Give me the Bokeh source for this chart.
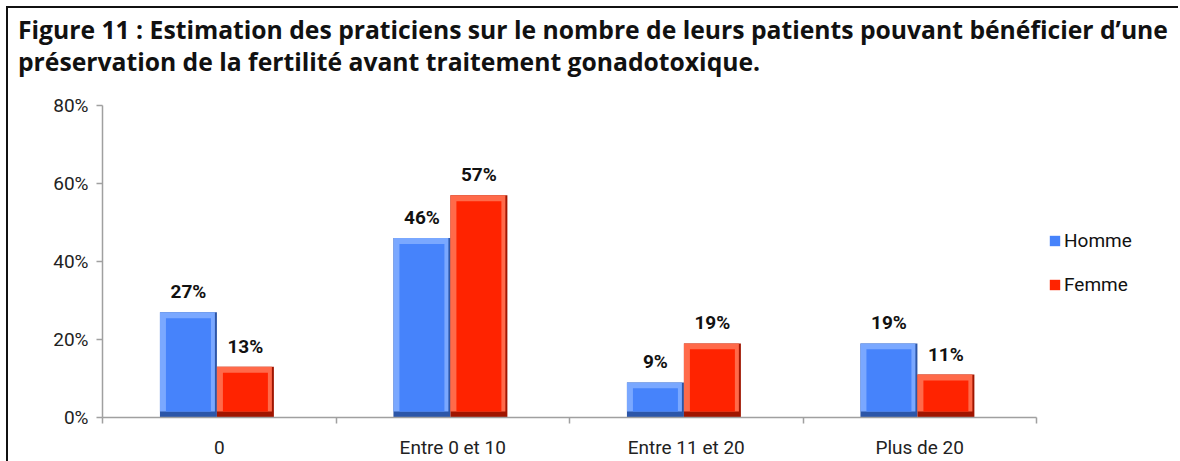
import numpy as np
from bokeh.plotting import figure
from bokeh.layouts import column
from bokeh.models import (ColumnDataSource, FixedTicker, Range1d, Legend, Div,
                          LegendItem, NumeralTickFormatter, LabelSet, LinearAxis)
from bokeh.core.properties import value
from bokeh.embed import file_html
from bokeh.resources import INLINE

categories = ["0", "Entre 0 et 10", "Entre 11 et 20", "Plus de 20"]
series = ["Homme", "Femme"]
homme = [0.27, 0.46, 0.09, 0.19]
femme = [0.13, 0.57, 0.19, 0.11]
labels_h = ["27%", "46%", "9%", "19%"]
labels_f = ["13%", "57%", "19%", "11%"]
yticks = [0, 0.2, 0.4, 0.6, 0.8]
title_lines = ["Figure 11 : Estimation des praticiens sur le nombre de leurs patients pouvant bénéficier d\u2019une",
               "préservation de la fertilité avant traitement gonadotoxique."]

FONT = "Roboto"
TFONT = "Open Sans"
W = 1170
TH = 70
H = 383
ML, MR, MT, MB = 94, 12, 27, 42
frame_w = W - ML - MR
frame_h = H - MT - MB
axis_px = 934  # pixel length of the category axis
n = len(categories)
x_end = n * frame_w / axis_px

title = Div(text="<br>".join(title_lines), width=W, height=TH, margin=0,
            styles={"font-family": "'Open Sans'", "font-weight": "bold",
                    "font-size": "24.7px", "line-height": "32px",
                    "color": "#111", "padding-left": "10px",
                    "padding-top": "6px", "white-space": "nowrap",
                    "box-sizing": "border-box"})

p = figure(width=W, height=H, output_backend="svg", toolbar_location=None,
           x_range=Range1d(0, x_end), y_range=Range1d(0, 0.8),
           min_border_left=ML, min_border_right=MR, min_border_top=MT,
           min_border_bottom=MB, x_axis_type=None, y_axis_type=None)
p.title = None
p.outline_line_color = None
p.grid.visible = False
p.margin = 0

ya = LinearAxis(ticker=FixedTicker(ticks=yticks, minor_ticks=[]),
                formatter=NumeralTickFormatter(format="0%"))
ya.axis_line_color = "#a0a0a0"
ya.axis_line_width = 1.5
ya.major_tick_line_color = "#a0a0a0"
ya.major_tick_line_width = 1.5
ya.major_tick_in = 0
ya.major_tick_out = 6
ya.major_label_text_font = FONT
ya.major_label_text_font_size = "19px"
ya.major_label_text_color = "#222"
ya.major_label_standoff = 8
p.add_layout(ya, "left")

centers = [i + 0.5 for i in range(n)]
xa = LinearAxis(ticker=FixedTicker(ticks=centers, minor_ticks=list(range(n + 1))),
                bounds=(0, n))
xa.major_label_overrides = {c: lab for c, lab in zip(centers, categories)}
xa.axis_line_color = "#a0a0a0"
xa.axis_line_width = 1.5
xa.major_tick_line_color = None
xa.minor_tick_line_color = "#a0a0a0"
xa.minor_tick_line_width = 1.5
xa.minor_tick_in = 0
xa.minor_tick_out = 6
xa.major_label_text_font = FONT
xa.major_label_text_font_size = "19px"
xa.major_label_text_color = "#222"
xa.major_label_standoff = 12
p.add_layout(xa, "below")

bw = 0.244
px_x = x_end / frame_w
px_y = 0.8 / frame_h
b = 6  # bevel in px

styles = [
    (homme, labels_h, -bw / 2, "#2c56a8", "#7aa8ff", "#4683fb"),
    (femme, labels_f, bw / 2, "#a01500", "#ff6a4a", "#ff2300"),
]
legend_items = []
for (vals, labs, off, dark, light, base), name in zip(styles, series):
    xc = [c + off - 0.01 for c in centers]
    src = ColumnDataSource(dict(
        x=xc, top=vals, lab=labs,
        l=[x - bw / 2 for x in xc], r=[x + bw / 2 for x in xc],
        il=[x - bw / 2 + b * px_x for x in xc], ir=[x + bw / 2 - b * px_x for x in xc],
        hr=[x + bw / 2 - 2 * px_x for x in xc],
        it=[v - b * px_y for v in vals],
    ))
    p.quad(left="l", right="r", top="top", bottom=0, source=src,
           fill_color=dark, line_color=None)
    p.quad(left="l", right="hr", top="top", bottom=b * px_y, source=src,
           fill_color=light, line_color=None)
    main = p.quad(left="il", right="ir", top="it", bottom=b * px_y, source=src,
                  fill_color=base, line_color=None)
    legend_items.append(LegendItem(label=name, renderers=[main]))
    p.add_layout(LabelSet(x="x", y="top", text="lab", source=src, y_offset=9,
                          text_align="center", text_baseline="bottom",
                          text_font=value(FONT), text_font_size=value("19px"),
                          text_font_style="bold", text_color="#111"))

leg = Legend(items=legend_items, location=(946, 121),
             label_text_font=FONT, label_text_font_size="19px",
             label_text_color="#111", glyph_width=13, glyph_height=13,
             label_height=20, spacing=21, padding=0, margin=0,
             label_standoff=3, border_line_color=None,
             background_fill_alpha=0)
p.add_layout(leg, "center")

layout = column(title, p, spacing=0)
layout.margin = (6, 0, 0, 6)
layout.styles = {"border-top": "2px solid #111", "border-left": "2px solid #111"}

open("out.html", "w").write(file_html(layout, INLINE))
